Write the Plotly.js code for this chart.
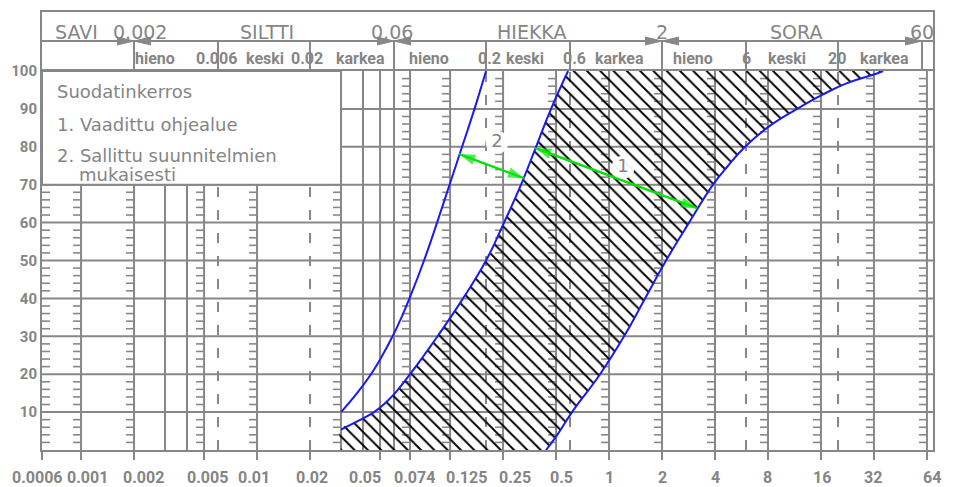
<!DOCTYPE html>
<html><head><meta charset="utf-8">
<script src="https://cdn.plot.ly/plotly-3.0.1.min.js"></script>
<style>html,body{margin:0;padding:0;background:#fff}</style>
</head><body><div id="chart" style="width:967px;height:487px"></div>
<script>
// ---------------- data ----------------
const sizeTickVals = [0.0006, 0.001, 0.002, 0.005, 0.01, 0.02, 0.05, 0.074, 0.125, 0.25, 0.5, 1, 2, 4, 8, 16, 32, 64];
const sizeTickText = ['0.0006', '0.001', '0.002', '0.005', '0.01', '0.02', '0.05', '0.074', '0.125', '0.25', '0.5', '1', '2', '4', '8', '16', '32', '64'];
const passTickVals = [10, 20, 30, 40, 50, 60, 70, 80, 90, 100];
const passTickText = ['10', '20', '30', '40', '50', '60', '70', '80', '90', '100'];
const gridPassing = [10, 20, 30, 40, 50, 60, 70, 80, 90];
const minorPassing = [2, 4, 6, 8, 12, 14, 16, 18, 22, 24, 26, 28, 32, 34, 36, 38, 42, 44, 46, 48, 52, 54, 56, 58,
                      62, 64, 66, 68, 72, 74, 76, 78, 82, 84, 86, 88, 92, 94, 96, 98];
const sieveSizes = [0.001, 0.002, 0.005, 0.01, 0.03, 0.074, 0.125, 0.25, 0.5, 1, 2, 4, 8, 16, 32, 64];
const plainSizes = [0.003, 0.004, 0.04, 0.05, 0.06];
const dashedSizes = [0.006, 0.02, 0.2, 0.6, 6, 20];

const mainClasses = ['SAVI', 'SILTTI', 'HIEKKA', 'SORA'];
const mainLimits = [0.002, 0.06, 2, 60];
const mainLimitText = ['0.002', '0.06', '2', '60'];
const subClasses = ['hieno', 'keski', 'karkea'];
const subLimits = [0.002, 0.006, 0.02, 0.06, 0.2, 0.6, 2, 6, 20, 60];
const subLimitText = ['', '0.006', '0.02', '', '0.2', '0.6', '', '6', '20', ''];

// curve 2 (allowed limit, fine side): grain size (mm) vs passing (%)
const curveA_size = [0.03, 0.037, 0.0444, 0.0516, 0.0589, 0.0662, 0.0735, 0.0889, 0.1054, 0.1241, 0.1462, 0.172, 0.2];
const curveA_pass = [10, 15, 20, 25, 30, 35, 40, 50, 60, 70, 80, 90, 100];
// required zone, fine limit
const curveB_size = [0.03, 0.038, 0.0462, 0.0541, 0.0608, 0.074, 0.0889, 0.1061, 0.1481, 0.2, 0.2532, 0.3162, 0.3848, 0.4682, 0.585];
const curveB_pass = [5.4, 7.8, 10, 12.6, 15, 20, 25, 30, 40, 50, 60, 70, 80, 90, 100];
// required zone, coarse limit
const curveC_size = [0.4386, 0.5045, 0.6164, 0.889, 1.217, 1.602, 2.108, 2.848, 3.899, 4.745, 5.925, 7.9, 11.7, 16.23, 22.51, 31.62, 36.05];
const curveC_pass = [0, 3.8, 10, 20, 30, 40, 50, 60, 70, 75, 80, 85, 90, 93.7, 96.8, 99, 100];

const arrow1_size = [0.3798, 3.162];
const arrow1_pass = [79.7, 63.8];
const arrow2_size = [0.1405, 0.329];
const arrow2_pass = [78.1, 71.7];
const zoneLabels = ['1', '2'];
const zoneLabel_size = [1.2, 0.231];
const zoneLabel_pass = [74.6, 81.2];

const legendTitle = 'Suodatinkerros';
const legendLines = ['1. Vaadittu ohjealue', '2. Sallittu suunnitelmien', 'mukaisesti'];

// ---------------- layout geometry & styles ----------------
const GRAY = '#878787', TEXT = '#858585', BLUE = '#1a1aee', GREEN = '#00e400';
const W = 967, H = 487;
const M = {l: 42, r: 34, t: 10, b: 37};
const plotW = W - M.l - M.r, plotH = H - M.t - M.b;
const mainTop = 379 / plotH;
const pxPerDec = 176;
const xr0 = Math.log10(0.0006);
const xr1 = xr0 + plotW / pxPerDec;
const xMin = Math.pow(10, xr0), xMax = Math.pow(10, xr1);
const headerPx = plotH - 379;
const y3Top = headerPx / 30;          // 30 px per header row
const shift = (v, px) => v * Math.pow(10, px / pxPerDec);
const gmean = (a, b) => Math.sqrt(a * b);
const boldFont = (s) => ({family: 'Roboto, DejaVu Sans, sans-serif', size: s, weight: 700, color: TEXT});
const regFont = (s) => ({family: 'DejaVu Sans, Verdana, sans-serif', size: s, color: TEXT});
// label nudges (px) so labels sit where the original places them
const xLabelShift = [-5, 6, 9, 3, -3, 2, -15, 4, 16, 12, 5, 0, 0, 0, 0, 1, -1, 5];
const mainClassShift = [-12, 3, 3, 4];
const mainLimitShift = [5.5, -2, 0, 0];
const subClassShift = [-21, 1, 8, -11, -3, 3.5, -11.5, -5.5, 4];
const subLimitShift = [0, -2, -3, 0, 3, 4, 0, 0, -1.5, 0];

function segs(list, f) { const xs = [], ys = []; list.forEach(v => { const s = f(v); xs.push(...s[0], null); ys.push(...s[1], null); }); return [xs, ys]; }

const traces = [];
const lineTrace = (xy, extra) => Object.assign({type: 'scatter', mode: 'lines', x: xy[0], y: xy[1], hoverinfo: 'skip',
  showlegend: false, line: {color: GRAY, width: 2}}, extra || {});

// horizontal grid
traces.push(lineTrace(segs(gridPassing, p => [[xMin, xMax], [p, p]])));
// vertical lines
traces.push(lineTrace(segs(sieveSizes, s => [[s, s], [0, 100]])));
traces.push(lineTrace(segs(plainSizes, s => [[s, s], [0, 100]])));
traces.push(lineTrace(segs(dashedSizes, s => [[s, s], [0, 100]]), {line: {color: GRAY, width: 2, dash: '10px,13px'}}));
// 2 % tick marks on the sieve lines and the left border
(function () {
  const xs = [], ys = [];
  sieveSizes.forEach(s => minorPassing.forEach(m => { xs.push(shift(s, -8), s, null); ys.push(m, m, null); }));
  minorPassing.forEach(m => { xs.push(xMin, shift(xMin, 8), null); ys.push(m, m, null); });
  traces.push(lineTrace([xs, ys], {line: {color: GRAY, width: 1.6}}));
})();
// legend box
const boxRight = 0.03, boxBottom = 70;
traces.push({type: 'scatter', mode: 'lines', x: [xMin, boxRight, boxRight, xMin, xMin], y: [boxBottom, boxBottom, 100, 100, boxBottom],
  fill: 'toself', fillcolor: '#ffffff', line: {color: GRAY, width: 2}, hoverinfo: 'skip', showlegend: false});
// hatched required zone: hidden coarse limit, then fine limit filled to it
const SPL = {shape: 'spline', smoothing: 1.3, simplify: false};
traces.push({type: 'scatter', mode: 'lines', x: curveC_size, y: curveC_pass,
  line: Object.assign({width: 0, color: 'rgba(0,0,0,0)'}, SPL), hoverinfo: 'skip', showlegend: false});
traces.push({type: 'scatter', mode: 'lines',
  x: [curveB_size[0]].concat(curveB_size), y: [curveC_pass[0]].concat(curveB_pass),
  fill: 'tonextx', fillcolor: 'rgba(0,0,0,0)',
  fillpattern: {shape: '\\', size: 9.4, solidity: 0.2, fgcolor: '#000000', bgcolor: 'rgba(0,0,0,0)', fillmode: 'replace'},
  line: Object.assign({width: 0, color: 'rgba(0,0,0,0)'}, SPL), hoverinfo: 'skip', showlegend: false});
// curves
[[curveA_size, curveA_pass], [curveB_size, curveB_pass], [curveC_size, curveC_pass]].forEach(c => {
  traces.push({type: 'scatter', mode: 'lines', x: c[0], y: c[1], line: Object.assign({color: BLUE, width: 2}, SPL),
    hoverinfo: 'skip', showlegend: false});
});
// green double arrows
[[arrow1_size, arrow1_pass], [arrow2_size, arrow2_pass]].forEach(a => {
  traces.push({type: 'scatter', mode: 'lines+markers', x: [a[0][0], a[0][1], a[0][0]], y: [a[1][0], a[1][1], a[1][0]],
    line: {color: GREEN, width: 2},
    marker: {symbol: 'arrow', size: [0, 17, 17], color: GREEN, angleref: 'previous', line: {width: 0}},
    hoverinfo: 'skip', showlegend: false});
});
// zone number labels
traces.push({type: 'scatter', mode: 'markers+text', x: zoneLabel_size, y: zoneLabel_pass, text: zoneLabels,
  textposition: 'middle center', textfont: regFont(18),
  marker: {symbol: 'circle', size: 23, color: 'rgba(255,255,255,0.95)', line: {width: 0}}, hoverinfo: 'skip', showlegend: false});

// ---- header (second row of axes) ----
const hdr = (xy, extra) => Object.assign(lineTrace(xy, extra), {xaxis: 'x', yaxis: 'y3'});
traces.push(hdr(segs([2, 1], r => [[xMin, xMax], [r, r]])));
traces.push(hdr(segs(subLimits, s => [[s, s], [0, 1]])));
(function () {
  const xs = [], ys = [], h = 4 / 30;
  mainLimits.forEach(m => {
    xs.push(shift(m, -17), m, shift(m, -17), null); ys.push(1 + h, 1, 1 - h, null);
    if (shift(m, 17) < xMax) { xs.push(shift(m, 17), m, shift(m, 17), null); ys.push(1 + h, 1, 1 - h, null); }
  });
  traces.push(hdr([xs, ys], {fill: 'toself', fillcolor: GRAY, line: {color: GRAY, width: 1}}));
})();

const annotations = [];
const ann = (o) => annotations.push(Object.assign({showarrow: false, borderpad: 0}, o));
const lg = Math.log10;
const ROW1 = 1.3, ROW2 = 0.42;
mainClasses.forEach((c, i) => {
  const lo = i === 0 ? xMin : mainLimits[i - 1];
  ann({text: c, xref: 'x', yref: 'y3', x: lg(gmean(lo, mainLimits[i])), y: ROW1, xshift: mainClassShift[i], font: regFont(19)});
});
mainLimitText.forEach((t, i) => ann({text: t, xref: 'x', yref: 'y3', x: lg(mainLimits[i]), y: ROW1, xshift: mainLimitShift[i], font: regFont(19)}));
for (let k = 0; k < 3; k++) {
  subClasses.forEach((c, j) => {
    ann({text: c, xref: 'x', yref: 'y3', x: lg(gmean(subLimits[3 * k + j], subLimits[3 * k + j + 1])), y: ROW2,
      xshift: subClassShift[3 * k + j], font: boldFont(16)});
  });
}
subLimitText.forEach((t, i) => { if (t) ann({text: t, xref: 'x', yref: 'y3', x: lg(subLimits[i]), y: ROW2, xshift: subLimitShift[i], font: boldFont(16)}); });
// bottom size labels
sizeTickText.forEach((t, i) => ann({text: t, xref: 'x', yref: 'paper', x: lg(sizeTickVals[i]), y: 0, yanchor: 'middle',
  yshift: -27, xshift: xLabelShift[i], font: boldFont(16)}));
// legend texts
ann({text: legendTitle, xref: 'paper', yref: 'y', x: 14 / plotW, y: 94.6, xanchor: 'left', font: regFont(18)});
ann({text: legendLines[0], xref: 'paper', yref: 'y', x: 14 / plotW, y: 85.8, xanchor: 'left', font: regFont(18)});
ann({text: legendLines[1], xref: 'paper', yref: 'y', x: 14 / plotW, y: 77.6, xanchor: 'left', font: regFont(18)});
ann({text: legendLines[2], xref: 'paper', yref: 'y', x: 36 / plotW, y: 72.7, xanchor: 'left', font: regFont(18)});

const layout = {
  width: W, height: H, margin: M, paper_bgcolor: '#ffffff', plot_bgcolor: '#ffffff', showlegend: false,
  xaxis: {type: 'log', range: [xr0, xr1], domain: [0, 1], anchor: 'y', showgrid: false, zeroline: false,
    showline: true, mirror: true, linecolor: GRAY, linewidth: 2,
    ticks: 'outside', ticklen: 8, tickwidth: 2, tickcolor: GRAY, showticklabels: false,
    tickmode: 'array', tickvals: sizeTickVals, ticktext: sizeTickText, fixedrange: true},
  yaxis: {range: [0, 100], domain: [0, mainTop], anchor: 'x', showgrid: false, zeroline: false,
    showline: true, mirror: true, linecolor: GRAY, linewidth: 2, ticks: '',
    tickmode: 'array', tickvals: passTickVals, ticktext: passTickText, tickfont: boldFont(15), fixedrange: true},
  yaxis2: {range: [0, 100], overlaying: 'y', side: 'right', anchor: 'x', showgrid: false, zeroline: false, showline: false, ticks: '',
    tickmode: 'array', tickvals: passTickVals, ticktext: passTickText, tickfont: boldFont(15), ticklabelstandoff: 5, fixedrange: true},
  yaxis3: {range: [0, y3Top], domain: [mainTop, 1], anchor: 'x', showgrid: false, zeroline: false,
    showline: true, mirror: true, linecolor: GRAY, linewidth: 2, ticks: '', showticklabels: false, fixedrange: true},
  annotations: annotations
};
Plotly.newPlot('chart', traces, layout, {displayModeBar: false, staticPlot: true});
</script>
</body></html>
